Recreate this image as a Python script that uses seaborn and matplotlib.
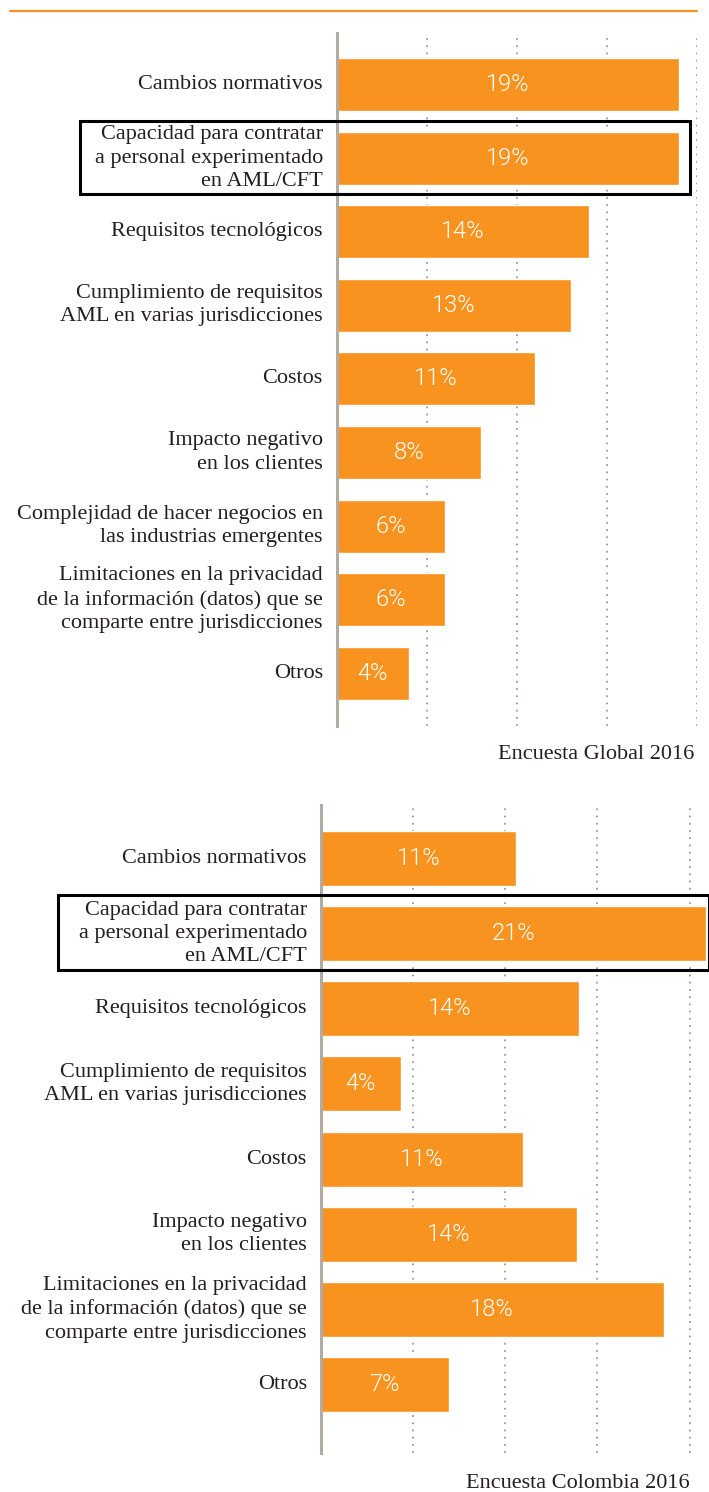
import matplotlib
matplotlib.use("Agg")
import matplotlib.pyplot as plt
import seaborn as sns
import pandas as pd
from matplotlib.lines import Line2D
from matplotlib.patches import Rectangle

# --- data ---
global_categories = [
    "Cambios normativos",
    "Capacidad para contratar\na personal experimentado\nen AML/CFT",
    "Requisitos tecnológicos",
    "Cumplimiento de requisitos\nAML en varias jurisdicciones",
    "Costos",
    "Impacto negativo\nen los clientes",
    "Complejidad de hacer negocios en\nlas industrias emergentes",
    "Limitaciones en la privacidad\nde la información (datos) que se\ncomparte entre jurisdicciones",
    "Otros",
]
global_values = [19, 19, 14, 13, 11, 8, 6, 6, 4]
global_labels = ["19%", "19%", "14%", "13%", "11%", "8%", "6%", "6%", "4%"]

colombia_categories = [
    "Cambios normativos",
    "Capacidad para contratar\na personal experimentado\nen AML/CFT",
    "Requisitos tecnológicos",
    "Cumplimiento de requisitos\nAML en varias jurisdicciones",
    "Costos",
    "Impacto negativo\nen los clientes",
    "Limitaciones en la privacidad\nde la información (datos) que se\ncomparte entre jurisdicciones",
    "Otros",
]
colombia_values = [10.6, 20.9, 14.0, 4.35, 10.95, 13.9, 18.6, 6.95]
colombia_labels = ["11%", "21%", "14%", "4%", "11%", "14%", "18%", "7%"]

titles = ["Encuesta Global 2016", "Encuesta Colombia 2016"]

ORANGE = "#F7931E"
AXIS_GREY = "#B3AAA3"
TEXT = "#231F20"
SERIF = ["Liberation Serif", "DejaVu Serif"]
SANS = ["Roboto", "Lato", "DejaVu Sans"]

W, H = 709, 1492
sns.set_theme(style="white")
plt.rcParams["font.family"] = SERIF

fig = plt.figure(figsize=(W / 100, H / 100), dpi=100)


def px_box(x0, y0, x1, y1):
    # pixel box (top-left origin) -> figure fraction [l, b, w, h]
    return [x0 / W, 1 - y1 / H, (x1 - x0) / W, (y1 - y0) / H]


def draw_panel(rect, cats, vals, labels, xmax, ylim, bar_w):
    ax = fig.add_axes(rect)
    df = pd.DataFrame({"cat": cats, "val": vals})
    sns.barplot(data=df, y="cat", x="val", orient="h", color=ORANGE,
                saturation=1, width=bar_w, ax=ax)
    ax.set_xlim(0, xmax)
    ax.set_ylim(*ylim)
    ax.set_xlabel("")
    ax.set_ylabel("")
    ax.set_xticks([5, 10, 15, 20])
    ax.set_xticklabels([])
    ax.grid(axis="x", color="#A39A92", linestyle=(0, (1, 3)), linewidth=1.3)
    ax.grid(axis="y", visible=False)
    ax.set_axisbelow(True)
    for s in ["top", "right", "bottom"]:
        ax.spines[s].set_visible(False)
    ax.spines["left"].set_color(AXIS_GREY)
    ax.spines["left"].set_linewidth(2.2)
    ax.spines["left"].set_zorder(5)
    ax.tick_params(axis="both", length=0)
    ax.tick_params(axis="y", pad=10)
    for lab in ax.get_yticklabels():
        lab.set_fontsize(16)
        lab.set_color(TEXT)
        lab.set_linespacing(1.3)
        lab.set_verticalalignment("center")
        lab.set_family(SERIF)
    ax.bar_label(ax.containers[0], labels=labels, label_type="center",
                 color="white", fontsize=17, family=SANS, fontweight=300)
    ax.patch.set_alpha(0)
    return ax


# top rule
fig.add_artist(Line2D([10 / W, 697 / W], [1 - 11 / H, 1 - 11 / H],
                      color=ORANGE, linewidth=1.6))

# Global survey
draw_panel(px_box(336.7, 33, 696.7, 726), global_categories, global_values,
           global_labels, 20, (8.716, -0.70), 0.72)
fig.text(694 / W, 1 - 759 / H, titles[0], ha="right", va="baseline",
         fontsize=16, color=TEXT, family=SERIF)

# Colombia survey
draw_panel(px_box(320.7, 805, 709, 1453), colombia_categories, colombia_values,
           colombia_labels, (709 - 320.7) / 18.44, (7.912, -0.712), 0.732)
fig.text(690 / W, 1 - 1488 / H, titles[1], ha="right", va="baseline",
         fontsize=16, color=TEXT, family=SERIF)

# highlight boxes
for x0, y0, x1, y1 in [(80, 121, 690, 194), (58, 895, 709, 970)]:
    fig.add_artist(Rectangle((x0 / W, 1 - y1 / H), (x1 - x0) / W, (y1 - y0) / H,
                             transform=fig.transFigure, fill=False,
                             edgecolor="black", linewidth=2.2, zorder=10))

fig.savefig("out.png", dpi=100, facecolor="white")
